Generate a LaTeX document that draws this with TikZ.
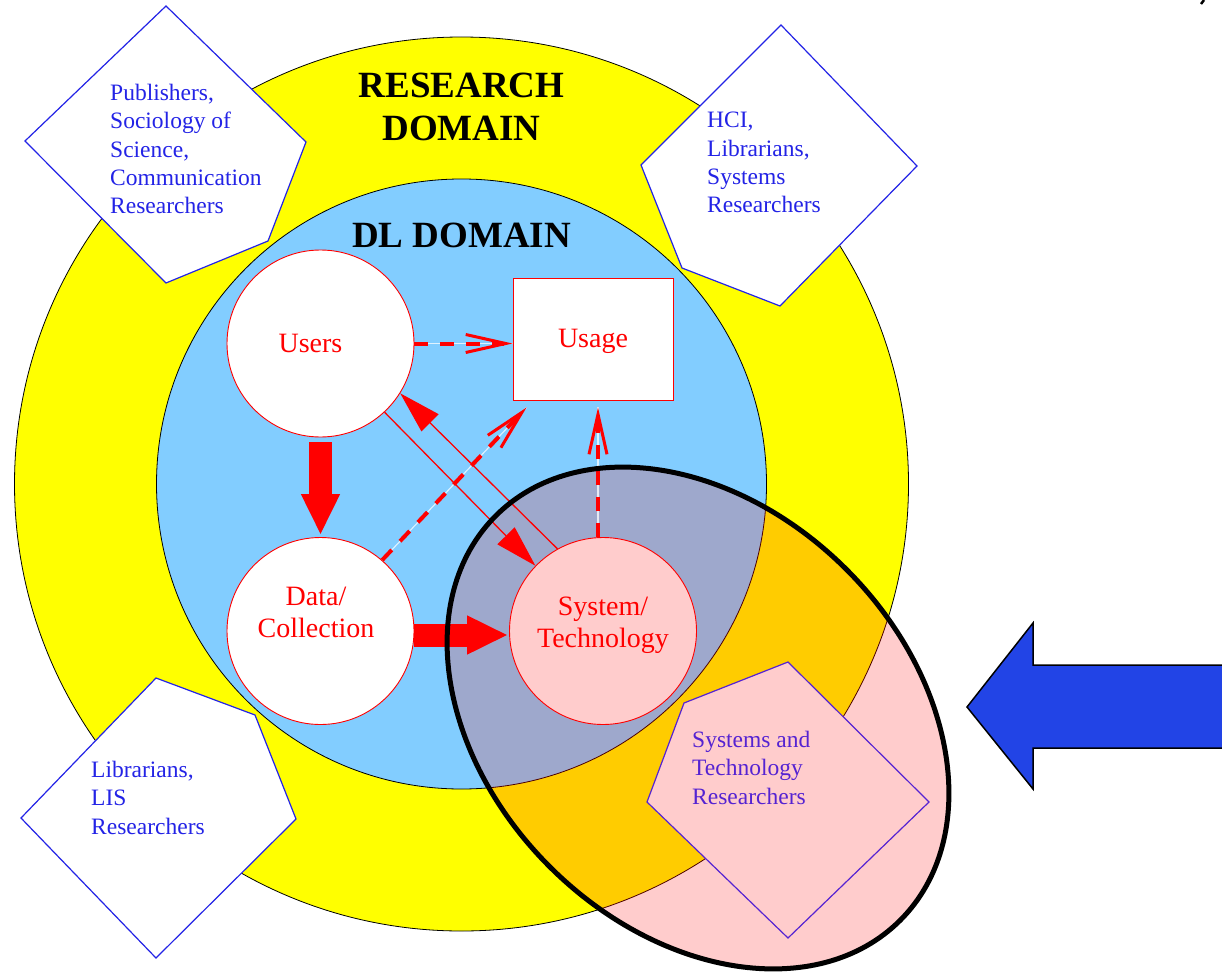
\documentclass[tikz,border=0pt]{standalone}
\usepackage{fontspec}
\setmainfont{Liberation Serif}
\usetikzlibrary{arrows.meta,calc}
\definecolor{yel}{RGB}{255,255,0}
\definecolor{dlblue}{RGB}{130,205,255}
\definecolor{orangec}{RGB}{255,204,0}
\definecolor{grayblue}{RGB}{158,168,204}
\definecolor{pinkc}{RGB}{255,204,204}
\definecolor{diablue}{RGB}{35,35,230}
\definecolor{diapurple}{RGB}{85,35,210}
\definecolor{bigblue}{RGB}{34,68,230}
\newcommand\fbig{\fontsize{37}{43}\selectfont\bfseries}
\newcommand\flab{\fontsize{28}{32}\selectfont}
\newcommand\fdia{\fontsize{23.5}{28.3}\selectfont}
\tikzset{
  ring/.style={draw=black, line width=0.8pt},
  entity/.style={circle, draw=red, line width=0.9pt, fill=white, minimum size=187pt, inner sep=0pt},
  lab/.style={text=red, font=\flab, align=center, inner sep=0pt, anchor=north},
  diatext/.style={text=diablue, font=\fdia, align=left, inner sep=0pt, anchor=north west},
  diashape/.style={draw=diablue, line width=1.2pt, fill=white, line join=miter},
  title/.style={font=\fbig, align=center, inner sep=0pt, anchor=north},
  dasharr/.style={preaction={draw=white, draw opacity=0.75, line width=1.1pt, solid, arrows=-},
    draw=red, line width=4pt, dash pattern=on 14pt off 12pt,
    -{Straight Barb[length=40pt,width=18pt,line width=3pt]}},
  thinarr/.style={draw=red, line width=1.3pt, -{Triangle[length=42pt,width=24pt]}},
  blockarr/.style={draw=red, line width=23pt, -{Triangle[length=41pt,width=36pt]}},
}
\begin{document}
\begin{tikzpicture}[x=1pt,y=-1pt]
\useasboundingbox (0,0) rectangle (1222,971);
\fill[white] (0,0) rectangle (1222,971);
% domains
\draw[ring, fill=yel] (461.5,484) circle[radius=447];
\draw[ring, fill=dlblue] (461.5,484) circle[radius=305];
% ellipse interior colouring
\begin{scope}
  \clip[rotate around={-45:(698,718)}] (698,718) ellipse[x radius=286, y radius=210];
  \fill[pinkc] (0,0) rectangle (1222,971);
  \draw[ring, draw=black!70!red, fill=orangec] (461.5,484) circle[radius=447];
  \draw[ring, draw=black!70!red, fill=grayblue] (461.5,484) circle[radius=305];
\end{scope}
% titles
\node[title] (rd) at (461.5,73) {RESEARCH\\DOMAIN};
\node[title] (dl) at (461.5,223) {DL DOMAIN};
% entities
\node[entity] (users) at (320.5,343.5) {};
\node[entity] (data) at (320.5,631) {};
\node[entity, fill=pinkc] (system) at (603,631) {};
\node[draw=red, line width=0.9pt, fill=white, minimum width=160pt, minimum height=122pt, inner sep=0pt] (usage) at (593,339) {};
\node[lab] (usersL) at (310.5,334) {Users};
\node[lab] (usageL) at (593,329) {Usage};
\node[lab] (dataL) at (316,587) {Data/\\Collection};
\node[lab] (systemL) at (603,597) {System/\\Technology};
% connectors
\draw[dasharr] (users.east) -- (users.east -| usage.west);
\draw[blockarr] ([yshift=-5pt]users.south) -- ([yshift=2pt]data.north);
\draw[blockarr] ([yshift=-4pt]data.east) -- ([xshift=-1pt,yshift=-4pt]system.west);
\draw[thinarr] (users.-47) -- (system.136);
\draw[thinarr] (system.119) -- (users.-32);
\draw[dasharr] (data.49) -- ([xshift=14pt,yshift=-7pt]usage.south west);
\draw[dasharr] ([xshift=-5pt]system.north) -- ([xshift=5pt,yshift=-7pt]usage.south);
% ellipse border
\draw[line width=5pt, rotate around={-45:(698,718)}] (698,718) ellipse[x radius=286, y radius=210];
% researcher diamonds
\draw[diashape] (166,6) -- (306,142) -- (268,241) -- (166,283) -- (25,141) -- cycle;
\draw[diashape] (781,25) -- (917,166) -- (780,306) -- (682,268) -- (641,165) -- cycle;
\draw[diashape] (156,678) -- (255,715) -- (296,819) -- (156,958) -- (21,818) -- cycle;
\draw[diashape, draw=diapurple, fill=pinkc] (788,662) -- (929,802) -- (788,938) -- (647,802) -- (684,703) -- cycle;
\node[diatext] (pub) at (110,84) {Publishers,\\Sociology of\\Science,\\Communication\\Researchers};
\node[diatext] (hci) at (707,112) {HCI,\\Librarians,\\Systems\\Researchers};
\node[diatext] (lis) at (91,761) {Librarians,\\LIS\\Researchers};
\node[diatext, text=diapurple] (sys) at (692,731) {Systems and\\Technology\\Researchers};
% big blue arrow
\fill[bigblue] (1222,665) -- (1033,665) -- (1033,623) -- (967,707) -- (1033,789) -- (1033,748) -- (1222,748) -- cycle;
\draw[line width=1.5pt, line join=miter] (1223,665) -- (1033,665) -- (1033,623) -- (967,707) -- (1033,789) -- (1033,748) -- (1223,748);
% small mark at top right
\draw[line width=2.5pt] (1201,4) -- (1204,0);
\end{tikzpicture}
\end{document}
